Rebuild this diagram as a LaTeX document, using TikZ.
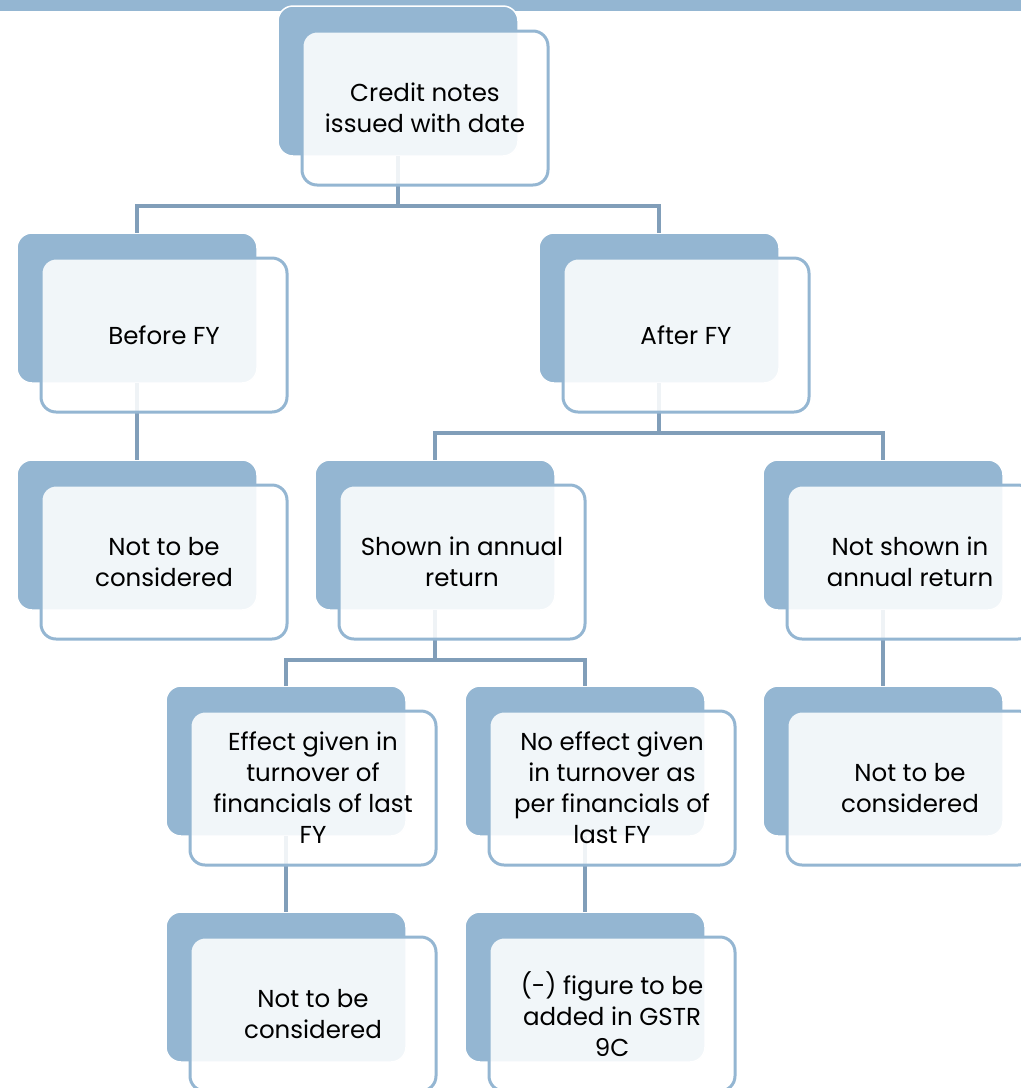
\documentclass[tikz,border=0pt]{standalone}
\usepackage{fontspec}
\setmainfont{Poppins}
\usetikzlibrary{positioning}

\definecolor{boxblue}{HTML}{94B6D2}
\definecolor{linkc}{HTML}{819EB9}

\begin{document}
\begin{tikzpicture}[x=1pt,y=-1pt,
    backbox/.style={draw=white,line width=1.5pt,fill=boxblue,rounded corners=15pt,
        minimum width=240pt,minimum height=150pt,inner sep=0,outer sep=0},
    frontbox/.style={draw=boxblue,line width=3pt,fill=white,fill opacity=0.88,text opacity=1,
        rounded corners=15pt,minimum width=246pt,minimum height=154pt,inner sep=0,outer sep=0,
        align=center,font=\fontsize{24.5}{31}\selectfont},
    link/.style={draw=linkc,line width=4pt}
]

\useasboundingbox (0,0) rectangle (1021,1088);
\clip (0,0) rectangle (1021,1088);
\fill[boxblue] (-5,-5) rectangle (1026,11);

% back boxes
\foreach \name/\cx/\cy in {credit/398/81, before/137/308, after/659/308,
    nc1/137/535, shown/435/535, notshown/883/535,
    effect/286/761, noeffect/585/761, nc2/883/761,
    nc3/286/987, gstr/585/987}{
  \node[backbox] (\name-b) at (\cx,\cy) {};
}

% connectors
\foreach \parent/\child in {credit/before, credit/after, before/nc1,
    after/shown, after/notshown, shown/effect, shown/noeffect,
    notshown/nc2, effect/nc3, noeffect/gstr}{
  \draw[link] (\parent-b.south) -- ++(0,50) -| (\child-b.north);
}

% text boxes
\foreach \name/\txt in {credit/{Credit notes\\issued with date},
    before/{Before FY}, after/{After FY},
    nc1/{Not to be\\considered},
    shown/{Shown in annual\\return},
    notshown/{Not shown in\\annual return},
    effect/{Effect given in\\turnover of\\financials of last\\FY},
    noeffect/{No effect given\\in turnover as\\per financials of\\last FY},
    nc2/{Not to be\\considered},
    nc3/{Not to be\\considered},
    gstr/{(-) figure to be\\added in GSTR\\9C}}{
  \node[frontbox,below right=25pt and 24pt of \name-b.north west] (\name) {\txt};
}

\end{tikzpicture}
\end{document}
